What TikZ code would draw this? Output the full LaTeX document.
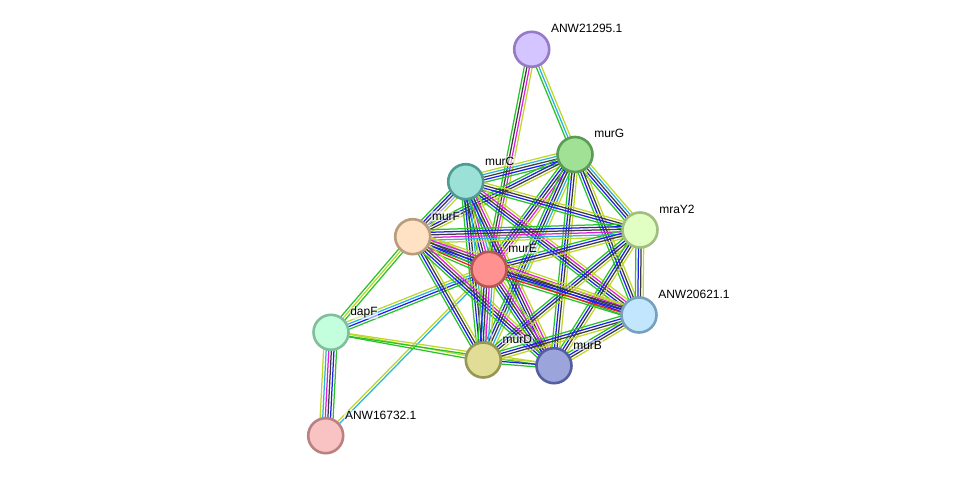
\documentclass[tikz,border=0pt]{standalone}
\usepackage{fontspec}
\setmainfont{Liberation Sans}
\usetikzlibrary{calc,backgrounds}
\definecolor{sgreen}{RGB}{40,195,40}
\definecolor{sblue}{RGB}{30,30,240}
\definecolor{sblack}{RGB}{60,60,60}
\definecolor{smag}{RGB}{225,30,220}
\definecolor{scyan}{RGB}{40,180,220}
\definecolor{syel}{RGB}{190,215,40}
\definecolor{sred}{RGB}{235,30,30}
\definecolor{slav}{RGB}{165,165,250}
\tikzset{
  prot/.style={circle,minimum size=35pt,inner sep=0pt,line width=2.6pt},
  plabel/.style={anchor=base west,font=\fontsize{12}{14}\selectfont,inner sep=0.6pt,fill=white,fill opacity=0.55,text opacity=1},
  strline/.style={line width=1.25pt}
}
\newcommand\stredge[3]{%
  \foreach \c [count=\i] in {#3} {\xdef\strn{\i}}%
  \foreach \c [count=\i] in {#3} {%
    \pgfmathsetmacro\off{(\i-(\strn+1)/2)*2.6}%
    \draw[strline,\c] ($(#1)!\off pt!90:(#2)$) -- ($(#2)!\off pt!-90:(#1)$);
  }}
\begin{document}
\begin{tikzpicture}[x=1pt,y=-1pt]
\useasboundingbox (0,0) rectangle (975,481);
% nodes
\node[prot,fill={rgb,255:red,212;green,196;blue,255},draw={rgb,255:red,150;green,122;blue,200}] (a21295) at (531.7,49.3) {};
\node[prot,fill={rgb,255:red,160;green,225;blue,150},draw={rgb,255:red,90;green,155;blue,85}] (murG) at (575,154.5) {};
\node[prot,fill={rgb,255:red,155;green,225;blue,215},draw={rgb,255:red,80;green,155;blue,145}] (murC) at (465.7,181.7) {};
\node[prot,fill={rgb,255:red,225;green,255;blue,195},draw={rgb,255:red,160;green,190;blue,130}] (mraY2) at (640,230) {};
\node[prot,fill={rgb,255:red,255;green,225;blue,195},draw={rgb,255:red,185;green,155;blue,125}] (murF) at (412.7,236.7) {};
\node[prot,fill={rgb,255:red,255;green,145;blue,145},draw={rgb,255:red,185;green,85;blue,85}] (murE) at (489,269.3) {};
\node[prot,fill={rgb,255:red,195;green,230;blue,255},draw={rgb,255:red,120;green,160;blue,190}] (a20621) at (639,315) {};
\node[prot,fill={rgb,255:red,195;green,255;blue,220},draw={rgb,255:red,130;green,190;blue,155}] (dapF) at (331,332.3) {};
\node[prot,fill={rgb,255:red,225;green,220;blue,150},draw={rgb,255:red,150;green,150;blue,85}] (murD) at (483.3,360) {};
\node[prot,fill={rgb,255:red,155;green,165;blue,220},draw={rgb,255:red,85;green,95;blue,160}] (murB) at (554,365.7) {};
\node[prot,fill={rgb,255:red,250;green,195;blue,195},draw={rgb,255:red,185;green,130;blue,130}] (a16732) at (325.7,435.7) {};
% edges
\begin{pgfonlayer}{background}
\stredge{a21295}{murG}{sgreen,scyan,syel}
\stredge{a21295}{murE}{sgreen,sblack,smag,syel}
\stredge{a16732}{dapF}{sgreen,sblue,sblack,smag,scyan,syel}
\stredge{a16732}{murE}{scyan,syel}
\stredge{dapF}{murF}{sgreen,syel,sgreen}
\stredge{dapF}{murE}{sgreen,sblue,scyan,syel}
\stredge{dapF}{murD}{sgreen,syel}
\stredge{dapF}{murB}{sgreen,syel}
\stredge{murC}{murG}{sgreen,sblue,sblack,scyan,syel}
\stredge{murG}{murF}{sgreen,sblue,sblack,syel}
\stredge{murG}{murE}{sgreen,sblue,sblack,smag,syel}
\stredge{murG}{mraY2}{sgreen,sblue,sblack,scyan,syel}
\stredge{murG}{a20621}{sgreen,sblue,sblack,syel}
\stredge{murG}{murD}{sgreen,sblue,sblack,scyan,syel}
\stredge{murG}{murB}{sgreen,sblue,sblack,syel}
\stredge{murC}{mraY2}{sgreen,sblue,sblack,syel}
\stredge{murC}{murF}{sgreen,sblue,sblack,slav,syel}
\stredge{murC}{murE}{sgreen,sblue,sblack,smag,scyan,syel}
\stredge{murC}{a20621}{sgreen,sblue,sblack,smag,syel}
\stredge{murC}{murD}{sgreen,sblue,sblack,scyan,syel}
\stredge{murC}{murB}{sgreen,sblue,sblack,smag,syel}
\stredge{mraY2}{murF}{sgreen,sblue,sblack,smag,scyan,syel}
\stredge{mraY2}{murE}{sgreen,sblue,sblack,syel}
\stredge{mraY2}{a20621}{sgreen,sblue,sblack,syel}
\stredge{mraY2}{murD}{sgreen,sblue,sblack,syel}
\stredge{mraY2}{murB}{sgreen,sblue,sblack,syel}
\stredge{murF}{murE}{sgreen,sred,sblue,sblack,slav,syel}
\stredge{murF}{a20621}{sgreen,sblue,sblack,smag,syel}
\stredge{murF}{murD}{sgreen,sblue,sblack,syel}
\stredge{murF}{murB}{sgreen,sblue,sblack,smag,syel}
\stredge{murE}{a20621}{sgreen,sred,sblue,sblack,syel}
\stredge{murE}{murD}{sgreen,sblue,sblack,smag,scyan,syel}
\stredge{murE}{murB}{sgreen,sblue,sblack,smag,syel}
\stredge{a20621}{murD}{sgreen,sblue,sblack,syel}
\stredge{a20621}{murB}{sgreen,sblue,sblack,syel}
\stredge{murD}{murB}{sgreen,sblue,syel}
\end{pgfonlayer}
% labels
\node[plabel] (l21295) at ($(a21295)+(18.5,-16.5)$) {ANW21295.1};
\node[plabel] (lmurG) at ($(murG)+(18.5,-16.5)$) {murG};
\node[plabel] (lmurC) at ($(murC)+(18.5,-16.5)$) {murC};
\node[plabel] (lmraY2) at ($(mraY2)+(18.5,-16.5)$) {mraY2};
\node[plabel] (lmurF) at ($(murF)+(18.5,-16.5)$) {murF};
\node[plabel] (lmurE) at ($(murE)+(18.5,-16.5)$) {murE};
\node[plabel] (l20621) at ($(a20621)+(18.5,-16.5)$) {ANW20621.1};
\node[plabel] (ldapF) at ($(dapF)+(18.5,-16.5)$) {dapF};
\node[plabel] (lmurD) at ($(murD)+(18.5,-16.5)$) {murD};
\node[plabel] (lmurB) at ($(murB)+(18.5,-16.5)$) {murB};
\node[plabel] (l16732) at ($(a16732)+(18.5,-16.5)$) {ANW16732.1};
\end{tikzpicture}
\end{document}
